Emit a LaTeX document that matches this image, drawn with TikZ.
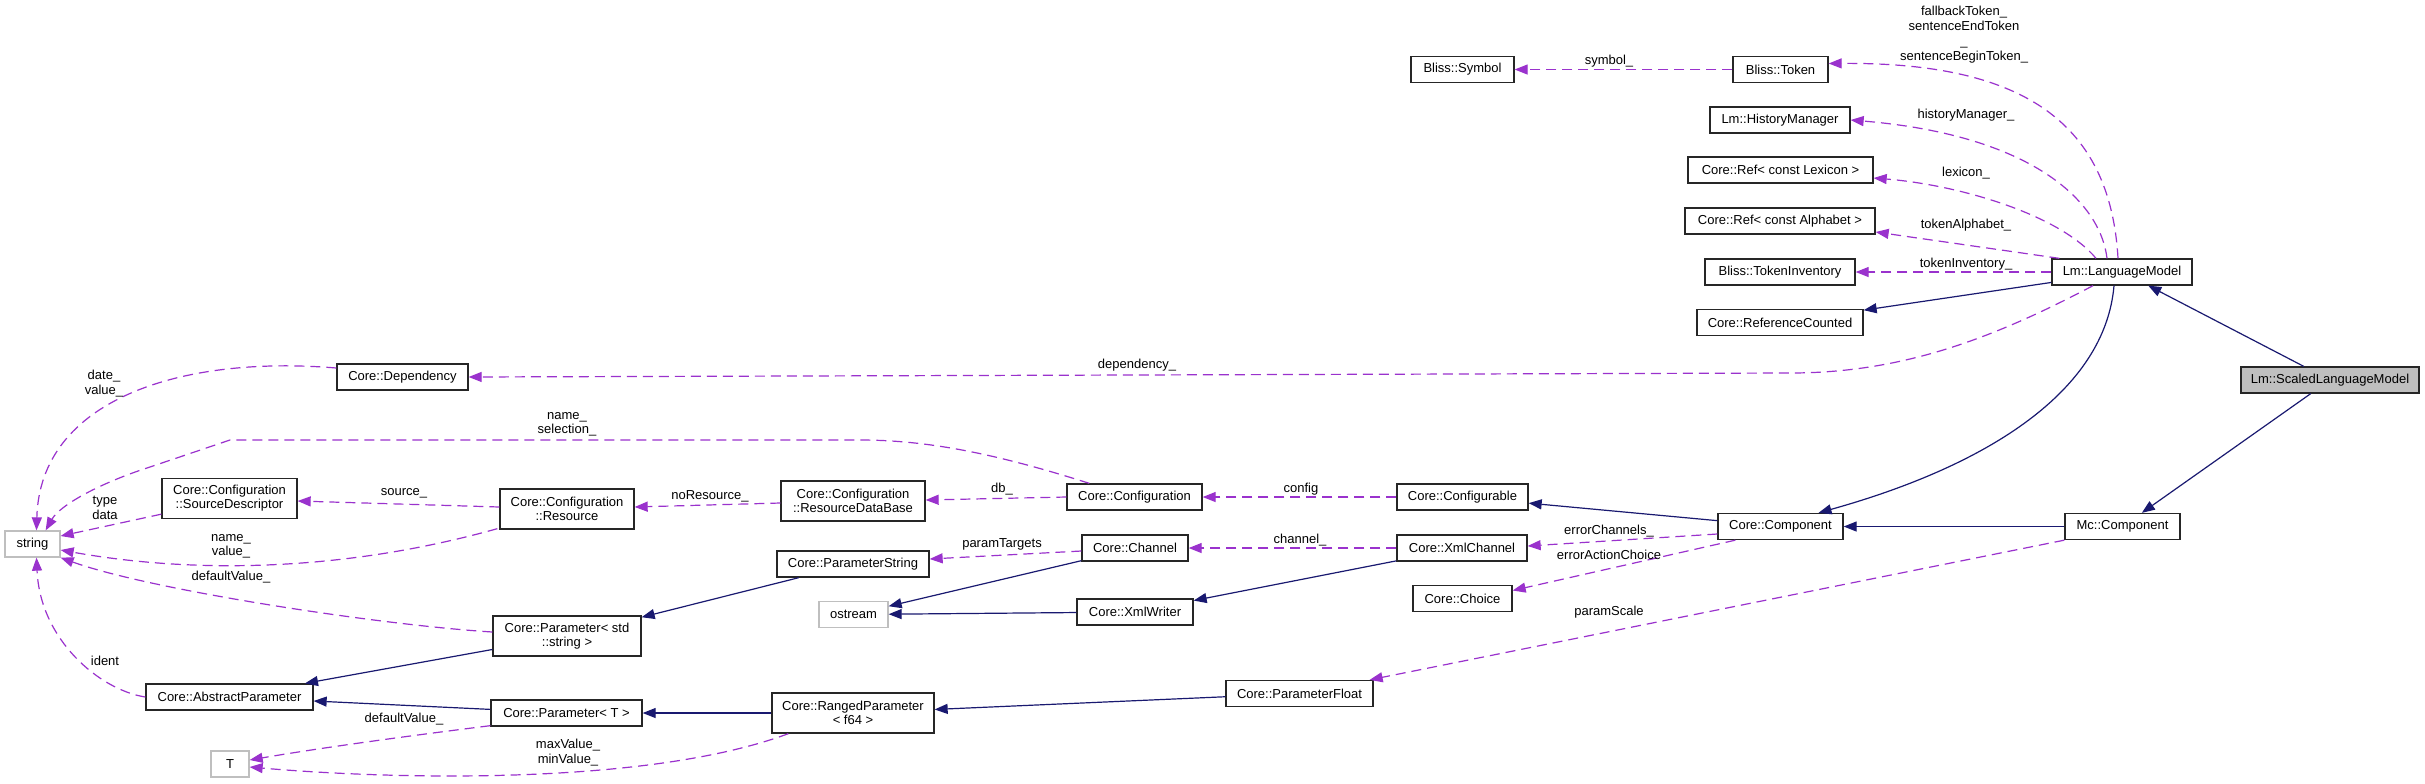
\documentclass[tikz,border=0pt]{standalone}
\usepackage{fontspec}
\setmainfont{Liberation Sans}
\usetikzlibrary{arrows.meta,calc}
\definecolor{navy}{HTML}{191970}
\definecolor{orchid}{HTML}{9A32CD}
\definecolor{boxgrey}{HTML}{BFBFBF}
\begin{document}
\begin{tikzpicture}[x=0.5pt,y=-0.5pt,
  font=\fontsize{6.5}{7}\selectfont,
  box/.style={draw=black!85, line width=0.65pt, fill=white, inner sep=0pt, minimum height=13pt, align=center},
  bx/.style={box, minimum width=#1*0.5pt},
  bxx/.style={box, minimum width=#1*0.5pt, minimum height=20pt},
  gbx/.style={box, draw=boxgrey, minimum width=#1*0.5pt},
  inh/.style={draw=navy, line width=0.6pt, -{Triangle[length=6.5pt,width=5pt]}},
  use/.style={draw=orchid, line width=0.6pt, dash pattern=on 5pt off 3pt, -{Triangle[length=6.5pt,width=5pt]}},
  lbl/.style={inner sep=0pt, align=center, font=\fontsize{6.5}{7.2}\selectfont}
]
\fill[white] (0,0) rectangle (2425,783);
\useasboundingbox (0,0) rectangle (2425,783);

% nodes
\node[bx=178, fill=boxgrey] (slm) at (2330,380) {Lm::ScaledLanguageModel};
\node[bx=140] (lm) at (2122,272) {Lm::LanguageModel};
\node[bx=103] (symbol) at (1462.5,69.5) {Bliss::Symbol};
\node[bx=95] (token) at (1780.5,69.5) {Bliss::Token};
\node[bx=140] (hist) at (1780,120) {Lm::HistoryManager};
\node[bx=185] (lex) at (1780.5,170) {Core::Ref{\textless} const Lexicon {\textgreater}};
\node[bx=190] (alpha) at (1780,221) {Core::Ref{\textless} const Alphabet {\textgreater}};
\node[bx=150] (inv) at (1780,272) {Bliss::TokenInventory};
\node[bx=166] (refc) at (1780,322.5) {Core::ReferenceCounted};
\node[bx=131] (dep) at (402.5,377) {Core::Dependency};
\node[gbx=55] (string) at (32.5,544) {string};
\node[bxx=135] (srcdesc) at (229.5,498.5) {Core::Configuration\\::SourceDescriptor};
\node[bxx=134] (res) at (567,509) {Core::Configuration\\::Resource};
\node[bxx=144] (rdb) at (853,501) {Core::Configuration\\::ResourceDataBase};
\node[bx=135] (config) at (1134.5,497) {Core::Configuration};
\node[bx=131] (cfgable) at (1462.5,497) {Core::Configurable};
\node[bx=152] (pstr) at (853,564) {Core::ParameterString};
\node[bx=106] (chan) at (1135,548) {Core::Channel};
\node[bx=130] (xmlchan) at (1462,548) {Core::XmlChannel};
\node[bx=99] (choice) at (1462.5,598.5) {Core::Choice};
\node[gbx=69] (ostream) at (853.5,614.5) {ostream};
\node[bx=116] (xmlw) at (1135,612) {Core::XmlWriter};
\node[bx=125] (cc) at (1780.5,526.5) {Core::Component};
\node[bx=115] (mcc) at (2122.5,526.5) {Mc::Component};
\node[bxx=148] (pstd) at (567,636) {Core::Parameter{\textless} std\\::string {\textgreater}};
\node[bx=167] (absp) at (229.5,697) {Core::AbstractParameter};
\node[bx=151] (pT) at (566.5,713) {Core::Parameter{\textless} T {\textgreater}};
\node[gbx=38] (T) at (230,764) {T};
\node[bxx=162] (rp) at (853,713) {Core::RangedParameter\\{\textless} f64 {\textgreater}};
\node[bx=147] (pf) at (1299.5,693.5) {Core::ParameterFloat};

% inheritance
\draw[inh] (slm) -- (lm);
\draw[inh] (mcc) -- (cc);
\draw[inh] (slm) -- (mcc);
\draw[inh] ($(lm.south)+(-8,0)$) .. controls (2105,390) and (1990,465) .. ($(cc.north)+(38,0)$);
\draw[inh] (lm) -- (refc);
\draw[inh] (cc) -- (cfgable);
\draw[inh] (xmlchan) -- (xmlw);
\draw[inh] (chan) -- (ostream);
\draw[inh] (xmlw) -- (ostream);
\draw[inh] (pf) -- (rp);
\draw[inh] (rp) -- (pT);
\draw[inh] (pT) -- (absp);
\draw[inh] (pstd) -- (absp);
\draw[inh] (pstr) -- (pstd);

% usage
\draw[use] (token) -- (symbol);
\draw[use] ($(lm.north)+(-4,0)$) .. controls (2110,120) and (2020,62) .. ($(token.east)+(0,-6)$);
\draw[use] ($(lm.north)+(-15,0)$) .. controls (2100,200) and (2030,135) .. (hist.east);
\draw[use] ($(lm.north)+(-26,0)$) .. controls (2060,215) and (1960,185) .. ($(lex.east)+(0,8)$);
\draw[use] ($(lm.north west)+(8,0)$) -- ($(alpha.east)+(0,11)$);
\draw[use] (lm.west) -- (inv.east);
\draw[use] ($(lm.south)+(-29,0)$) .. controls (1990,340) and (1900,373) .. (1790,373) -- (dep.east);
\draw[use] ($(dep.west)+(0,-9)$) .. controls (180,355) and (40,400) .. ($(string.north)+(4,0)$);
\draw[use] ($(config.north west)+(23,0)$) .. controls (1000,455) and (930,440) .. (860,440) -- (230,440) -- (150,467) .. controls (100,483) and (60,505) .. ($(string.north east)+(-15,0)$);
\draw[use] ($(srcdesc.south west)+(0,-5)$) -- ($(string.east)+(0,-8)$);
\draw[use] ($(res.west)+(0,-2)$) -- ($(srcdesc.east)+(0,2.5)$);
\draw[use] ($(res.south west)+(-2,-1)$) .. controls (350,570) and (200,575) .. ($(string.east)+(0,6)$);
\draw[use] ($(pstd.west)+(0,-4)$) .. controls (380,625) and (150,590) .. (string.south east);
\draw[use] (absp.west) .. controls (100,690) and (40,640) .. ($(string.south)+(4,0)$);
\draw[use] ($(rdb.west)+(0,2)$) -- ($(res.east)+(0,-2)$);
\draw[use] (config.west) -- ($(rdb.east)+(0,-1)$);
\draw[use] (cfgable.west) -- (config.east);
\draw[use] ($(chan.west)+(0,3)$) -- ($(pstr.east)+(0,-5)$);
\draw[use] (xmlchan.west) -- (chan.east);
\draw[use] ($(cc.west)+(0,7.5)$) -- ($(xmlchan.east)+(0,-2)$);
\draw[use] ($(cc.south west)+(18,0)$) -- ($(choice.east)+(0,-8)$);
\draw[use] (mcc.south west) -- ($(pf.north east)+(-4,0)$);
\draw[use] ($(rp.south west)+(17,0)$) .. controls (650,785) and (400,780) .. ($(T.east)+(0,3)$);
\draw[use] ($(pT.south west)+(0,-1)$) .. controls (400,737) and (320,748) .. ($(T.east)+(0,-4)$);

% labels
\node[lbl, font=\fontsize{6.5}{7.6}\selectfont] (l1) at (1964,34.5) {fallbackToken\_\\sentenceEndToken\hspace*{9pt}\\\_\\sentenceBeginToken\_};
\node[lbl] (l2) at (1609,61) {symbol\_};
\node[lbl] (l3) at (1966,115) {historyManager\_};
\node[lbl] (l4) at (1966,173) {lexicon\_};
\node[lbl] (l5) at (1966,225) {tokenAlphabet\_};
\node[lbl] (l6) at (1966,264) {tokenInventory\_};
\node[lbl] (l7) at (1137,365) {dependency\_};
\node[lbl] (l8) at (104,383.5) {date\_\\value\_};
\node[lbl] (l9) at (567,424) {name\_\\selection\_};
\node[lbl] (l10) at (105,508) {type\\data};
\node[lbl] (l11) at (404,493) {source\_};
\node[lbl] (l12) at (710,496) {noResource\_};
\node[lbl] (l13) at (231,546) {name\_\\value\_};
\node[lbl] (l14) at (231,577) {defaultValue\_};
\node[lbl] (l15) at (105,661) {ident};
\node[lbl] (l16) at (404,719) {defaultValue\_};
\node[lbl] (l17) at (568,752.5) {maxValue\_\\minValue\_};
\node[lbl] (l18) at (1002,489) {db\_};
\node[lbl] (l19) at (1301,489) {config};
\node[lbl] (l20) at (1002,544) {paramTargets};
\node[lbl] (l21) at (1300,540) {channel\_};
\node[lbl] (l22) at (1609,531) {errorChannels\_};
\node[lbl] (l23) at (1609,555) {errorActionChoice};
\node[lbl] (l24) at (1609,612) {paramScale};
\end{tikzpicture}
\end{document}
